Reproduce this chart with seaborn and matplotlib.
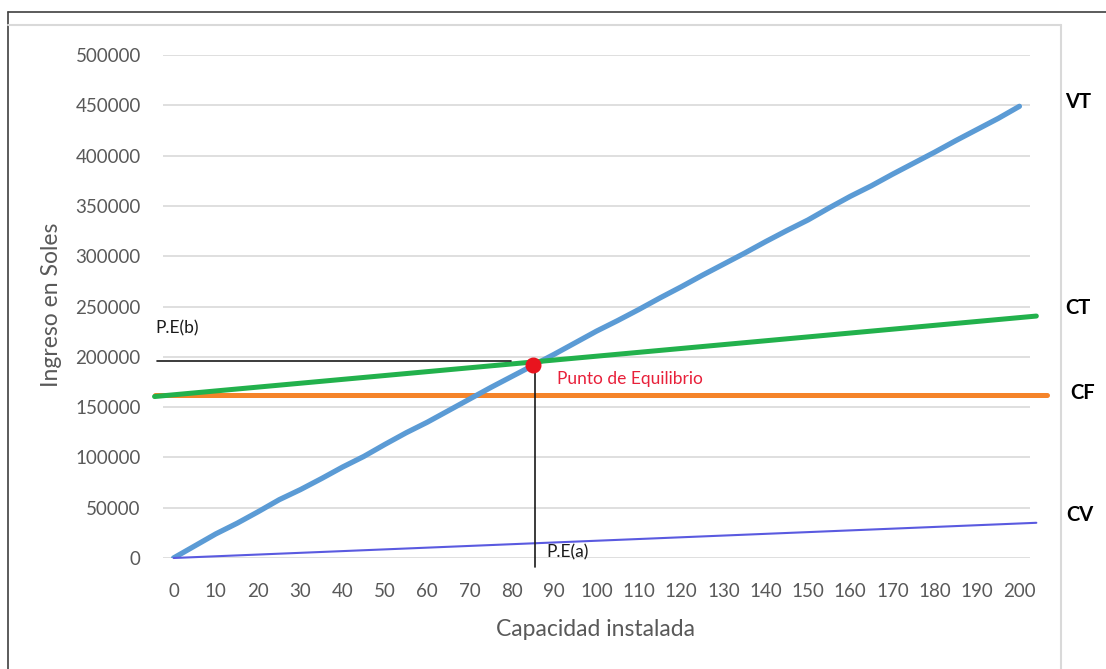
import numpy as np
import pandas as pd
import matplotlib
matplotlib.use("Agg")
import matplotlib.pyplot as plt
from matplotlib.lines import Line2D
import seaborn as sns

# ---- data -------------------------------------------------------------
capacidad = [0, 5, 10, 15, 20, 25, 30, 35, 40, 45, 50, 55, 60, 65, 70, 75, 80,
             85, 90, 95, 100, 105, 110, 115, 120, 125, 130, 135, 140, 145, 150,
             155, 160, 165, 170, 175, 180, 185, 190, 195, 200]
vt = [0, 12000, 24000, 34500, 46000, 58000, 68000, 79000, 90500, 101000,
      113000, 124500, 135000, 146500, 158000, 169500, 180500, 191500, 202500,
      214000, 225500, 236000, 247000, 258500, 269500, 281000, 292000, 303000,
      314500, 325500, 336000, 348000, 359500, 370000, 381500, 392500, 403500,
      415000, 426000, 437000, 449000]

ct_x = [-4.5, 204.0]
ct = [160500, 240500]
cf_x = [-4.5, 206.5]
cf = [162000, 162000]
cv_x = [0, 204.0]
cv = [0, 35000]

pe_x, pe_y = 85, 192000          # punto de equilibrio
pe_b_y = 195800                  # guide line towards the y axis
pe_b_xmin, pe_b_xmax = -4.0, 79.7
pe_a_ymin = -9000

xticks = list(range(0, 201, 10))
yticks = list(range(0, 500001, 50000))

# ---- style ------------------------------------------------------------
sns.set_theme(style="white")
plt.rcParams["font.family"] = ["Lato", "DejaVu Sans"]

W, H = 1106, 669
fig = plt.figure(figsize=(W / 100, H / 100), dpi=100)
ax = fig.add_axes([163 / W, 1 - 558 / H, 867 / W, 503 / H])

grey_txt = "#595959"
c_vt, c_ct, c_cf, c_cv = "#5B9BD5", "#22B14C", "#F5842A", "#5A5AE0"

ax.set_xlim(-2.5, 202.5)
ax.set_ylim(0, 500000)
for y in yticks:
    ax.axhline(y, color="#D9D9D9", lw=1.2, zorder=0)

sns.lineplot(x=capacidad, y=vt, ax=ax, color=c_vt, lw=3.8,
             solid_capstyle="round", zorder=3)
sns.lineplot(x=cv_x, y=cv, ax=ax, color=c_cv, lw=1.5, clip_on=False, zorder=3)
sns.lineplot(x=ct_x, y=ct, ax=ax, color=c_ct, lw=3.6, clip_on=False, zorder=4)
sns.lineplot(x=cf_x, y=cf, ax=ax, color=c_cf, lw=3.6, clip_on=False, zorder=2)

# equilibrium guides and point
ax.plot([pe_b_xmin, pe_b_xmax], [pe_b_y, pe_b_y], color="#1a1a1a", lw=1.2,
        clip_on=False, zorder=5)
ax.plot([pe_x + 0.4, pe_x + 0.4], [pe_a_ymin, pe_y], color="#1a1a1a", lw=1.2,
        clip_on=False, zorder=5)
ax.plot([pe_x], [pe_y], marker="o", ms=10.5, color="#E8141E", zorder=6,
        clip_on=False)

ax.set_xticks(xticks)
ax.set_xticklabels([str(v) for v in xticks])
ax.set_yticks(yticks)
ax.set_yticklabels([str(v) for v in yticks])
ax.tick_params(axis="both", length=0, labelsize=13.5, colors=grey_txt)
ax.tick_params(axis="x", pad=18)
ax.tick_params(axis="y", pad=16)
for s in ax.spines.values():
    s.set_visible(False)
ax.set_xlabel("")
ax.set_ylabel("")


def px(x, y):
    return x / W, 1 - y / H


fig.text(*px(596, 630), "Capacidad instalada", ha="center", va="center",
         fontsize=16.5, color=grey_txt)
fig.text(*px(52, 305), "Ingreso en Soles", ha="center", va="center",
         rotation=90, fontsize=16.5, color=grey_txt)

fig.text(*px(155, 328), "P.E(b)", ha="left", va="center", fontsize=12.5,
         color="#1a1a1a")
fig.text(*px(557, 379), "Punto de Equilibrio", ha="left", va="center",
         fontsize=12.5, color="#E8203A")
fig.text(*px(546, 552), "P.E(a)", ha="left", va="center", fontsize=12.5,
         color="#1a1a1a")

for lbl, (x, y) in {"VT": (1065, 102), "CT": (1065, 308),
                    "CF": (1070, 393), "CV": (1066, 515)}.items():
    fig.text(*px(x, y), lbl, ha="left", va="center", fontsize=14.5,
             fontweight="bold", color="black")

# chart frame
fig.add_artist(Line2D([8 / W, 1], [1 - 12 / H, 1 - 12 / H], color="#404040",
                      lw=1.2, transform=fig.transFigure))
fig.add_artist(Line2D([8 / W, 8 / W], [1 - 12 / H, 0], color="#404040",
                      lw=1.2, transform=fig.transFigure))
fig.add_artist(Line2D([8 / W, 1061 / W], [1 - 25 / H, 1 - 25 / H],
                      color="#D9D9D9", lw=1.5, transform=fig.transFigure))
fig.add_artist(Line2D([1061 / W, 1061 / W], [1 - 25 / H, 0],
                      color="#D9D9D9", lw=1.5, transform=fig.transFigure))

fig.savefig("out.png", dpi=100, facecolor="white")
